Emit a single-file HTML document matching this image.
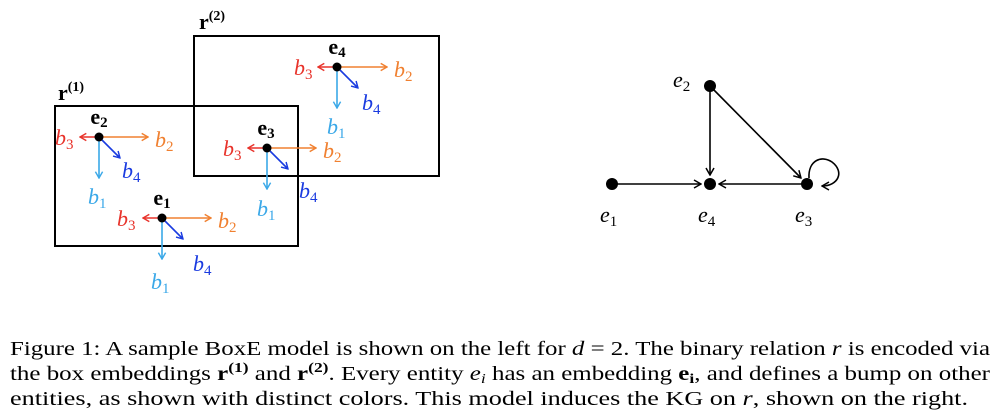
<!DOCTYPE html>
<html><head><meta charset="utf-8"><style>
html,body{margin:0;padding:0;background:#fff;}
svg{display:block;}
.it{font-family:"Liberation Serif","DejaVu Serif",serif;font-style:italic;font-size:22px;}
.bd{font-family:"Liberation Serif","DejaVu Serif",serif;font-weight:bold;font-size:22px;}
.cap{font-family:"Liberation Serif","DejaVu Serif",serif;font-size:20px;}
.s{font-style:normal;font-size:15px;}
</style></head><body>
<svg width="1000" height="420" viewBox="0 0 1000 420" xmlns="http://www.w3.org/2000/svg">
<defs>
<marker id="r" viewBox="0 0 10 10" refX="9" refY="5" markerWidth="9" markerHeight="9" orient="auto" markerUnits="userSpaceOnUse"><path d="M2,1 L9,5 L2,9" fill="none" stroke="#e8332b" stroke-width="1.6"/></marker>
<marker id="o" viewBox="0 0 10 10" refX="9" refY="5" markerWidth="9" markerHeight="9" orient="auto" markerUnits="userSpaceOnUse"><path d="M2,1 L9,5 L2,9" fill="none" stroke="#f08030" stroke-width="1.6"/></marker>
<marker id="c" viewBox="0 0 10 10" refX="9" refY="5" markerWidth="9" markerHeight="9" orient="auto" markerUnits="userSpaceOnUse"><path d="M2,1 L9,5 L2,9" fill="none" stroke="#3aa8e8" stroke-width="1.6"/></marker>
<marker id="b" viewBox="0 0 10 10" refX="9" refY="5" markerWidth="9" markerHeight="9" orient="auto" markerUnits="userSpaceOnUse"><path d="M2,1 L9,5 L2,9" fill="none" stroke="#1a3be0" stroke-width="1.6"/></marker>
<marker id="k" viewBox="0 0 10 10" refX="9" refY="5" markerWidth="10" markerHeight="10" orient="auto" markerUnits="userSpaceOnUse"><path d="M2,1 L9,5 L2,9" fill="none" stroke="#000" stroke-width="1.5"/></marker>
</defs>

<rect x="55" y="106" width="243" height="140" fill="none" stroke="#000" stroke-width="2"/>
<rect x="194" y="36" width="245" height="140" fill="none" stroke="#000" stroke-width="2"/>
<text class="bd" x="58" y="100">r<tspan font-size="14" dy="-9">(1)</tspan></text>
<text class="bd" x="199" y="29">r<tspan font-size="14" dy="-9">(2)</tspan></text>

<g stroke-width="1.6" fill="none">
<line x1="337" y1="67" x2="318" y2="67" stroke="#e8332b" marker-end="url(#r)"/>
<line x1="337" y1="67" x2="387" y2="67" stroke="#f08030" marker-end="url(#o)"/>
<line x1="337" y1="67" x2="337" y2="108" stroke="#3aa8e8" marker-end="url(#c)"/>
<line x1="337" y1="67" x2="358" y2="88" stroke="#1a3be0" marker-end="url(#b)"/>
<line x1="99" y1="137" x2="80" y2="137" stroke="#e8332b" marker-end="url(#r)"/>
<line x1="99" y1="137" x2="148" y2="137" stroke="#f08030" marker-end="url(#o)"/>
<line x1="99" y1="137" x2="99" y2="178" stroke="#3aa8e8" marker-end="url(#c)"/>
<line x1="99" y1="137" x2="120" y2="158" stroke="#1a3be0" marker-end="url(#b)"/>
<line x1="267" y1="148" x2="248" y2="148" stroke="#e8332b" marker-end="url(#r)"/>
<line x1="267" y1="148" x2="316" y2="148" stroke="#f08030" marker-end="url(#o)"/>
<line x1="267" y1="148" x2="267" y2="189" stroke="#3aa8e8" marker-end="url(#c)"/>
<line x1="267" y1="148" x2="288" y2="169" stroke="#1a3be0" marker-end="url(#b)"/>
<line x1="162" y1="218" x2="143" y2="218" stroke="#e8332b" marker-end="url(#r)"/>
<line x1="162" y1="218" x2="211" y2="218" stroke="#f08030" marker-end="url(#o)"/>
<line x1="162" y1="218" x2="162" y2="259" stroke="#3aa8e8" marker-end="url(#c)"/>
<line x1="162" y1="218" x2="183" y2="239" stroke="#1a3be0" marker-end="url(#b)"/>
</g>
<g fill="#000">
<circle cx="337" cy="67" r="4.5"/><circle cx="99" cy="137" r="4.5"/><circle cx="267" cy="148" r="4.5"/><circle cx="162" cy="218" r="4.5"/>
</g>
<g class="bd" text-anchor="middle">
<text x="337" y="54">e<tspan font-size="15" dy="3">4</tspan></text>
<text x="99" y="124">e<tspan font-size="15" dy="3">2</tspan></text>
<text x="266" y="135">e<tspan font-size="15" dy="3">3</tspan></text>
<text x="162" y="205">e<tspan font-size="15" dy="3">1</tspan></text>
</g>
<g class="it">
<text x="294" y="75" fill="#e8332b">b<tspan class="s" dy="4">3</tspan></text>
<text x="394" y="77" fill="#f08030">b<tspan class="s" dy="4">2</tspan></text>
<text x="327" y="134" fill="#3aa8e8">b<tspan class="s" dy="4">1</tspan></text>
<text x="362" y="110" fill="#1a3be0">b<tspan class="s" dy="4">4</tspan></text>

<text x="55" y="145" fill="#e8332b">b<tspan class="s" dy="4">3</tspan></text>
<text x="155" y="147" fill="#f08030">b<tspan class="s" dy="4">2</tspan></text>
<text x="88" y="204" fill="#3aa8e8">b<tspan class="s" dy="4">1</tspan></text>
<text x="122" y="178" fill="#1a3be0">b<tspan class="s" dy="4">4</tspan></text>

<text x="223" y="156" fill="#e8332b">b<tspan class="s" dy="4">3</tspan></text>
<text x="323" y="158" fill="#f08030">b<tspan class="s" dy="4">2</tspan></text>
<text x="257" y="216" fill="#3aa8e8">b<tspan class="s" dy="4">1</tspan></text>
<text x="299" y="198" fill="#1a3be0">b<tspan class="s" dy="4">4</tspan></text>

<text x="117" y="226" fill="#e8332b">b<tspan class="s" dy="4">3</tspan></text>
<text x="218" y="228" fill="#f08030">b<tspan class="s" dy="4">2</tspan></text>
<text x="151" y="289" fill="#3aa8e8">b<tspan class="s" dy="4">1</tspan></text>
<text x="193" y="271" fill="#1a3be0">b<tspan class="s" dy="4">4</tspan></text>
</g>

<g stroke="#000" stroke-width="1.6" fill="none">
<line x1="612" y1="184" x2="701" y2="184" marker-end="url(#k)"/>
<line x1="710" y1="86" x2="710" y2="175" marker-end="url(#k)"/>
<line x1="807" y1="184" x2="719" y2="184" marker-end="url(#k)"/>
<line x1="710" y1="86" x2="801" y2="178" marker-end="url(#k)"/>
<path d="M809,178 C808,160 822,155 832,162 C845,172 838,186 822,186" marker-end="url(#k)"/>
</g>
<g fill="#000">
<circle cx="612" cy="184" r="6"/><circle cx="710" cy="86" r="6"/><circle cx="710" cy="184" r="6"/><circle cx="807" cy="184" r="6"/>
</g>
<g class="it">
<text x="673" y="87">e<tspan class="s" dy="4">2</tspan></text>
<text x="600" y="222">e<tspan class="s" dy="4">1</tspan></text>
<text x="698" y="222">e<tspan class="s" dy="4">4</tspan></text>
<text x="795" y="222">e<tspan class="s" dy="4">3</tspan></text>
</g>

<g class="cap">
<text x="10" y="355" textLength="980" lengthAdjust="spacingAndGlyphs">Figure 1: A sample BoxE model is shown on the left for <tspan font-style="italic">d</tspan> = 2. The binary relation <tspan font-style="italic">r</tspan> is encoded via</text>
<text x="10" y="380" textLength="980" lengthAdjust="spacingAndGlyphs">the box embeddings <tspan font-weight="bold">r</tspan><tspan font-size="14" dy="-8" font-weight="bold">(1)</tspan><tspan dy="8"> and </tspan><tspan font-weight="bold">r</tspan><tspan font-size="14" dy="-8" font-weight="bold">(2)</tspan><tspan dy="8">. Every entity </tspan><tspan font-style="italic">e</tspan><tspan font-style="italic" font-size="14" dy="3">i</tspan><tspan dy="-3"> has an embedding </tspan><tspan font-weight="bold">e</tspan><tspan font-weight="bold" font-size="14" dy="3">i</tspan><tspan dy="-3">, and defines a bump on other</tspan></text>
<text x="10" y="405" textLength="958" lengthAdjust="spacingAndGlyphs">entities, as shown with distinct colors. This model induces the KG on <tspan font-style="italic">r</tspan>, shown on the right.</text>
</g>
</svg>
</body></html>
